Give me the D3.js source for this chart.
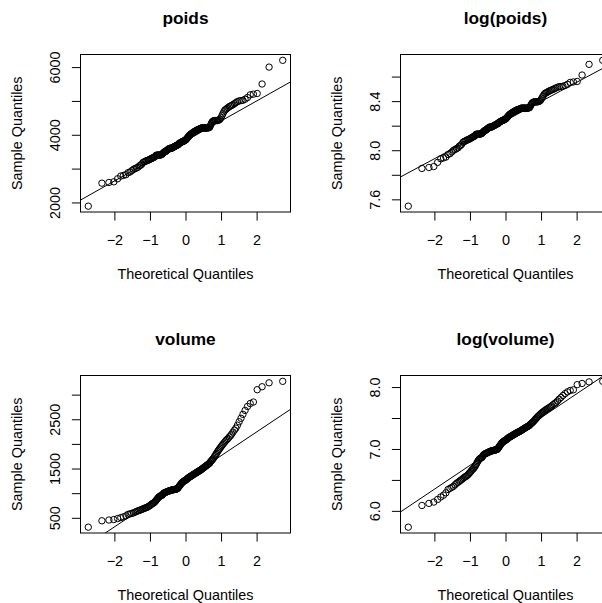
<!DOCTYPE html>
<html>
<head>
<meta charset="utf-8">
<script src="https://cdn.jsdelivr.net/npm/d3@7"></script>
<style>
  html, body { margin: 0; padding: 0; background: #fff; }
  svg { display: block; font-family: "Liberation Sans", Arial, Helvetica, sans-serif; }
</style>
</head>
<body>
<svg id="chart" width="602" height="603"></svg>
<script>
// Sorted sample values (n = 160)
const poids = [
  1890, 2570, 2590, 2610, 2700, 2780, 2800, 2820, 2880, 2900,
  2940, 2980, 3000, 3020, 3040, 3080, 3100, 3130, 3180, 3200,
  3210, 3230, 3240, 3250, 3260, 3280, 3290, 3300, 3320, 3330,
  3340, 3360, 3390, 3400, 3400, 3400, 3400, 3400, 3400, 3410,
  3420, 3440, 3460, 3480, 3500, 3500, 3510, 3530, 3550, 3560,
  3570, 3590, 3600, 3600, 3600, 3600, 3610, 3620, 3630, 3640,
  3650, 3660, 3670, 3680, 3690, 3700, 3700, 3720, 3740, 3750,
  3760, 3770, 3780, 3790, 3800, 3800, 3810, 3820, 3830, 3840,
  3850, 3870, 3890, 3910, 3930, 3950, 3970, 3990, 4000, 4020,
  4030, 4040, 4050, 4060, 4080, 4090, 4100, 4110, 4120, 4130,
  4140, 4150, 4150, 4160, 4170, 4180, 4190, 4200, 4200, 4200,
  4200, 4200, 4200, 4200, 4200, 4200, 4200, 4200, 4210, 4210,
  4230, 4280, 4330, 4370, 4400, 4410, 4420, 4420, 4420, 4420,
  4420, 4430, 4440, 4460, 4500, 4560, 4620, 4680, 4730, 4750,
  4780, 4800, 4830, 4850, 4870, 4890, 4920, 4950, 4980, 5000,
  5010, 5020, 5050, 5100, 5180, 5200, 5220, 5500, 6000, 6200
];

const volume = [
  310, 440, 455, 465, 485, 505, 520, 540, 570, 580,
  590, 600, 615, 630, 640, 650, 660, 670, 680, 690,
  700, 705, 715, 725, 740, 750, 765, 780, 790, 800,
  815, 830, 850, 870, 890, 910, 925, 935, 945, 950,
  955, 970, 990, 1000, 1010, 1015, 1020, 1025, 1030, 1035,
  1040, 1045, 1050, 1055, 1060, 1062, 1065, 1068, 1070, 1072,
  1075, 1078, 1080, 1083, 1086, 1090, 1105, 1120, 1135, 1150,
  1165, 1180, 1195, 1210, 1220, 1230, 1240, 1245, 1255, 1260,
  1265, 1275, 1285, 1295, 1305, 1315, 1320, 1330, 1335, 1345,
  1350, 1360, 1365, 1375, 1380, 1390, 1395, 1405, 1410, 1420,
  1425, 1435, 1440, 1450, 1455, 1465, 1470, 1480, 1490, 1500,
  1510, 1520, 1530, 1540, 1550, 1560, 1570, 1580, 1590, 1600,
  1615, 1640, 1655, 1670, 1690, 1710, 1735, 1760, 1785, 1810,
  1840, 1865, 1890, 1915, 1940, 1965, 1990, 2015, 2040, 2065,
  2090, 2110, 2140, 2165, 2200, 2240, 2280, 2320, 2380, 2450,
  2520, 2600, 2680, 2760, 2820, 2850, 3100, 3160, 3240, 3270
];

// Axis ticks and their labels (blank = tick without label)
const xTicks = [-2, -1, 0, 1, 2];
const xTickLabels = ["\u22122", "\u22121", "0", "1", "2"];
const poidsTicks = [2000, 3000, 4000, 5000, 6000];
const poidsTickLabels = ["2000", "", "4000", "", "6000"];
const logPoidsTicks = [7.6, 7.8, 8.0, 8.2, 8.4, 8.6];
const logPoidsTickLabels = ["7.6", "", "8.0", "", "8.4", ""];
const volumeTicks = [500, 1000, 1500, 2000, 2500, 3000];
const volumeTickLabels = ["500", "", "1500", "", "2500", ""];
const logVolumeTicks = [6.0, 6.5, 7.0, 7.5, 8.0];
const logVolumeTickLabels = ["6.0", "", "7.0", "", "8.0"];

const titles = ["poids", "log(poids)", "volume", "log(volume)"];
const xLabel = "Theoretical Quantiles";
const yLabel = "Sample Quantiles";

// Inverse standard normal CDF (Acklam)
function qnorm(p) {
  const a = [-3.969683028665376e+01, 2.209460984245205e+02, -2.759285104469687e+02,
             1.383577518672690e+02, -3.066479806614716e+01, 2.506628277459239e+00];
  const b = [-5.447609879822406e+01, 1.615858368580409e+02, -1.556989798598866e+02,
             6.680131188771972e+01, -1.328068155288572e+01];
  const c = [-7.784894002430293e-03, -3.223964580411365e-01, -2.400758277161838e+00,
             -2.549732539343734e+00, 4.374664141464968e+00, 2.938163982698783e+00];
  const d = [7.784695709041462e-03, 3.224671290700398e-01, 2.445134137142996e+00,
             3.754408661907416e+00];
  const plow = 0.02425, phigh = 1 - plow;
  let q, r;
  if (p < plow) {
    q = Math.sqrt(-2 * Math.log(p));
    return (((((c[0]*q+c[1])*q+c[2])*q+c[3])*q+c[4])*q+c[5]) /
           ((((d[0]*q+d[1])*q+d[2])*q+d[3])*q+1);
  }
  if (p <= phigh) {
    q = p - 0.5; r = q * q;
    return (((((a[0]*r+a[1])*r+a[2])*r+a[3])*r+a[4])*r+a[5])*q /
           (((((b[0]*r+b[1])*r+b[2])*r+b[3])*r+b[4])*r+1);
  }
  q = Math.sqrt(-2 * Math.log(1 - p));
  return -(((((c[0]*q+c[1])*q+c[2])*q+c[3])*q+c[4])*q+c[5]) /
          ((((d[0]*q+d[1])*q+d[2])*q+d[3])*q+1);
}

// Plotting positions for a normal Q-Q plot
function ppoints(n) {
  const a = n <= 10 ? 3 / 8 : 0.5;
  return d3.range(1, n + 1).map(i => (i - a) / (n + 1 - 2 * a));
}

// Extend a range by 4% on each side
function padded(ext) {
  const r = ext[1] - ext[0];
  return [ext[0] - 0.04 * r, ext[1] + 0.04 * r];
}

const panels = [
  { title: titles[0], values: poids, ticks: poidsTicks, labels: poidsTickLabels, col: 0, row: 0 },
  { title: titles[1], values: poids.map(Math.log), ticks: logPoidsTicks, labels: logPoidsTickLabels, col: 1, row: 0 },
  { title: titles[2], values: volume, ticks: volumeTicks, labels: volumeTickLabels, col: 0, row: 1 },
  { title: titles[3], values: volume.map(Math.log), ticks: logVolumeTicks, labels: logVolumeTickLabels, col: 1, row: 1 }
];

const svg = d3.select("#chart");
const plotW = 210, plotH = 157.5;
const fontSize = 14.4;

panels.forEach((p, k) => {
  const left = 80.5 + 320 * p.col;
  const top = 54.5 + 321 * p.row;
  const g = svg.append("g").attr("transform", `translate(${left},${top})`);

  const ys = p.values.slice().sort(d3.ascending);
  const xs = ppoints(ys.length).map(qnorm);

  const x = d3.scaleLinear().domain(padded(d3.extent(xs))).range([0, plotW]);
  const y = d3.scaleLinear().domain(padded(d3.extent(ys))).range([plotH, 0]);

  // x axis
  const xAxis = g.append("g")
    .attr("transform", `translate(0,${plotH})`)
    .call(d3.axisBottom(x).tickValues(xTicks)
      .tickFormat((d, i) => xTickLabels[i])
      .tickSize(8.6).tickSizeOuter(0));
  xAxis.select(".domain").remove();
  xAxis.selectAll("line").attr("stroke", "#000");
  xAxis.selectAll("text")
    .attr("y", 32.5).attr("dy", null)
    .attr("fill", "#000")
    .style("font-size", fontSize + "px")
    .style("font-family", "'Liberation Sans', Arial, sans-serif");

  // y axis
  const yAxis = g.append("g")
    .call(d3.axisLeft(y).tickValues(p.ticks)
      .tickFormat((d, i) => p.labels[i])
      .tickSize(8.6).tickSizeOuter(0));
  yAxis.select(".domain").remove();
  yAxis.selectAll("line").attr("stroke", "#000");
  yAxis.selectAll("text")
    .attr("transform", "rotate(-90)")
    .attr("x", 0).attr("y", -20.5).attr("dy", null)
    .attr("text-anchor", "middle")
    .attr("fill", "#000")
    .style("font-size", fontSize + "px")
    .style("font-family", "'Liberation Sans', Arial, sans-serif");

  // clip region for the reference line
  const clipId = "clip" + k;
  g.append("clipPath").attr("id", clipId)
    .append("rect").attr("width", plotW).attr("height", plotH);

  // Line through the first and third quartiles
  const q1 = d3.quantileSorted(ys, 0.25), q3 = d3.quantileSorted(ys, 0.75);
  const z1 = qnorm(0.25), z3 = qnorm(0.75);
  const slope = (q3 - q1) / (z3 - z1);
  const intercept = q1 - slope * z1;
  const xd = x.domain();
  g.append("line")
    .attr("clip-path", `url(#${clipId})`)
    .attr("x1", x(xd[0])).attr("y1", y(intercept + slope * xd[0]))
    .attr("x2", x(xd[1])).attr("y2", y(intercept + slope * xd[1]))
    .attr("stroke", "#000").attr("stroke-width", 1);

  // points
  g.append("g").selectAll("circle")
    .data(ys.map((v, i) => [xs[i], v]))
    .join("circle")
    .attr("cx", d => x(d[0])).attr("cy", d => y(d[1]))
    .attr("r", 3.2)
    .attr("fill", "none").attr("stroke", "#000").attr("stroke-width", 1);

  // box
  g.append("rect").attr("width", plotW).attr("height", plotH)
    .attr("fill", "none").attr("stroke", "#000").attr("stroke-width", 1);

  // title
  g.append("text")
    .attr("x", plotW / 2).attr("y", -31)
    .attr("text-anchor", "middle")
    .style("font-size", "17.3px").style("font-weight", "bold")
    .text(p.title);

  // axis titles
  g.append("text")
    .attr("x", plotW / 2).attr("y", plotH + 67)
    .attr("text-anchor", "middle")
    .style("font-size", fontSize + "px")
    .text(xLabel);
  g.append("text")
    .attr("transform", `translate(-58.5,${plotH / 2}) rotate(-90)`)
    .attr("text-anchor", "middle")
    .style("font-size", fontSize + "px")
    .text(yLabel);
});
</script>
</body>
</html>
